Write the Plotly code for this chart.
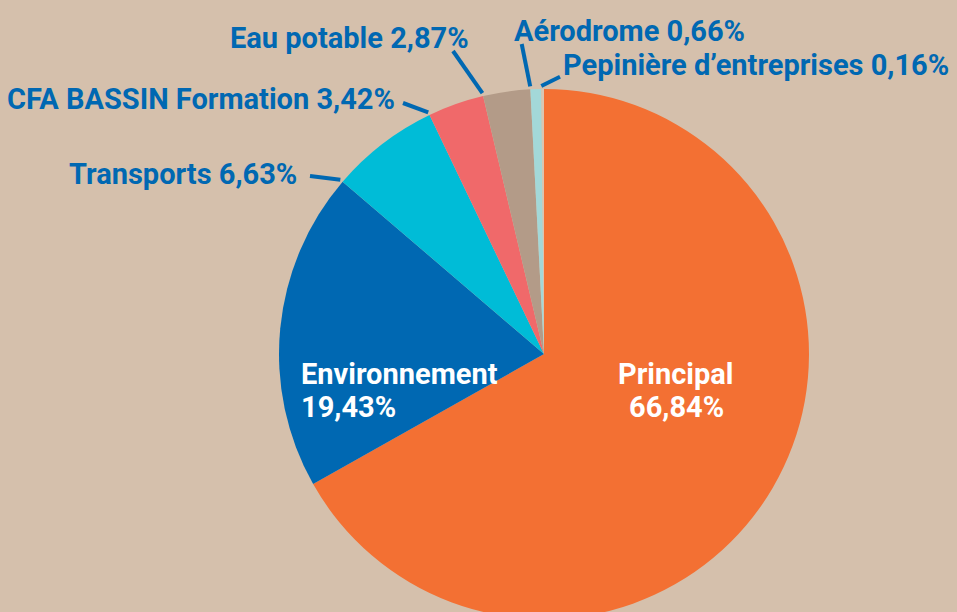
import math
import plotly.graph_objects as go

# ---- data ----
categories = ["Principal", "Environnement", "Transports", "CFA BASSIN Formation",
              "Eau potable", "Aérodrome", "Pepinière d\u2019entreprises"]
values = [66.84, 19.43, 6.63, 3.42, 2.87, 0.66, 0.16]
value_labels = ["66,84%", "19,43%", "6,63%", "3,42%", "2,87%", "0,66%", "0,16%"]
colors = ["#F37033", "#0068B2", "#00BCD7", "#F0696A", "#B39B88", "#A3D8D8", "#D9C6B2"]

BG = "#D5C0AC"
BLUE = "#0068B2"
W, H = 957, 708
CX, CY, R = 544, 354, 265
FONT = "Roboto"
FS = 29


def px(x):
    return x / W


def py(y):
    return 1 - y / H


fig = go.Figure(go.Pie(
    labels=categories, values=values, sort=False, direction="clockwise", rotation=0,
    marker=dict(colors=colors, line=dict(width=0)),
    textinfo="none", hoverinfo="label+percent", showlegend=False,
    domain=dict(x=[px(CX - R), px(CX + R)], y=[py(CY + R), py(CY - R)]),
))

# angles of slice boundaries (degrees clockwise from 12 o'clock)
total = sum(values)
starts = []
acc = 0.0
for v in values:
    starts.append(acc / total * 360.0)
    acc += v

annotations = []
shapes = []

# inside labels
inside = {
    0: dict(x=676, xanchor="center"),
    1: dict(x=299, xanchor="left"),
}
for i, spec in inside.items():
    for text, yc in ((categories[i], 373), (value_labels[i], 405.5)):
        annotations.append(dict(
            text=text, x=px(spec["x"]), y=py(yc + 1), xref="paper", yref="paper",
            xanchor=spec["xanchor"], yanchor="middle", showarrow=False,
            font=dict(family=FONT, size=FS, color="white", weight="bold"),
        ))

# outside labels: (index, text x, text y center, anchor, leader end x, leader end y)
outside = [
    (2, 299, 173, "right", 310, 176),
    (3, 397, 97.5, "right", 403, 103),
    (4, 471, 37, "right", 453, 51),
    (5, 512, 29.5, "left", 521.7, 44),
    (6, 561, 64, "left", 560, 76.7),
]
for i, tx, ty, anch, ex, ey in outside:
    annotations.append(dict(
        text=f"{categories[i]} {value_labels[i]}", x=px(tx), y=py(ty + 1),
        xref="paper", yref="paper", xanchor=anch, yanchor="middle", showarrow=False,
        font=dict(family=FONT, size=FS, color=BLUE, weight="bold"),
    ))
    a = math.radians(starts[i])
    sx = CX + (R + 3) * math.sin(a)
    sy = CY - (R + 3) * math.cos(a)
    shapes.append(dict(type="line", xref="paper", yref="paper",
                       x0=px(sx), y0=py(sy), x1=px(ex), y1=py(ey),
                       line=dict(color=BLUE, width=4)))

fig.update_layout(
    width=W, height=H, autosize=False,
    margin=dict(l=0, r=0, t=0, b=0, pad=0),
    paper_bgcolor=BG, plot_bgcolor=BG,
    annotations=annotations, shapes=shapes,
)

fig.write_html(
    "out.html",
    config={"displayModeBar": False},
    post_script="document.body.style.margin='0';document.body.style.overflow='hidden';"
                "document.documentElement.style.overflow='hidden';",
)
